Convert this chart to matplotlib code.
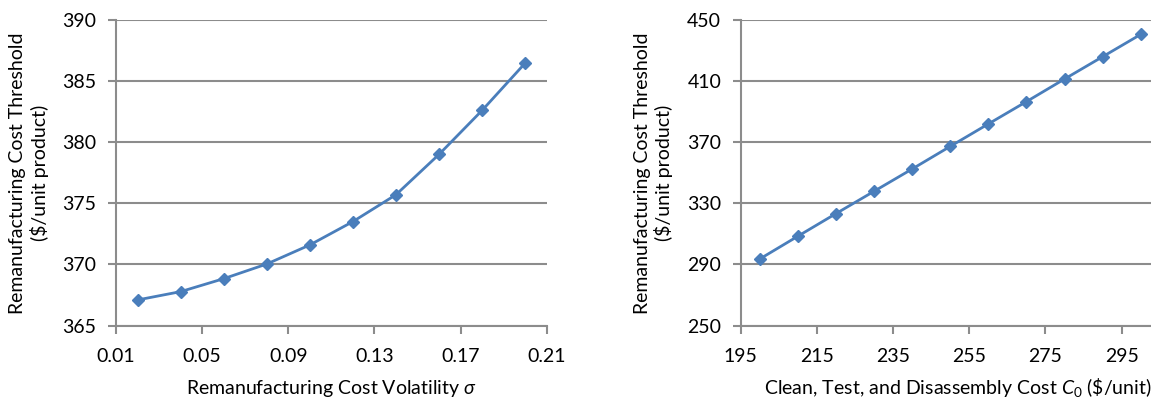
import matplotlib
matplotlib.use("Agg")
import matplotlib.pyplot as plt

plt.rcParams['font.family'] = ['Lato', 'DejaVu Sans']
plt.rcParams['mathtext.fontset'] = 'custom'
plt.rcParams['mathtext.it'] = 'Lato:italic'
plt.rcParams['mathtext.rm'] = 'Lato'

# left panel: threshold vs volatility
sigma = [0.02, 0.04, 0.06, 0.08, 0.10, 0.12, 0.14, 0.16, 0.18, 0.20]
thr_sigma = [367.10, 367.78, 368.84, 370.04, 371.60, 373.51, 375.71, 379.01, 382.61, 386.48]

# right panel: threshold vs clean/test/disassembly cost
c0 = [200, 210, 220, 230, 240, 250, 260, 270, 280, 290, 300]
thr_c0 = [293.6, 308.5, 323.3, 337.9, 352.5, 367.3, 382.0, 396.6, 411.4, 426.0, 440.6]

left_xticks = [0.01, 0.05, 0.09, 0.13, 0.17, 0.21]
left_yticks = [365, 370, 375, 380, 385, 390]
right_xticks = [195, 215, 235, 255, 275, 295]
right_yticks = [250, 290, 330, 370, 410, 450]

LINE = '#4A7EBB'
GRID = '#8C8C8C'

fig = plt.figure(figsize=(11.51, 4.01), dpi=100)
ax1 = fig.add_axes([0.1008, 0.188, 0.3742, 0.762])
ax2 = fig.add_axes([0.6435, 0.188, 0.3565, 0.762])


def style(ax):
    for s in ['top', 'right']:
        ax.spines[s].set_visible(False)
    for s in ['left', 'bottom']:
        ax.spines[s].set_color(GRID)
        ax.spines[s].set_linewidth(1.5)
    ax.yaxis.grid(True, color=GRID, linewidth=1.5)
    ax.set_axisbelow(True)
    ax.tick_params(axis='both', direction='out', color=GRID, width=1.5,
                   length=6, labelsize=14, labelcolor='black')
    ax.tick_params(axis='x', pad=10)
    ax.tick_params(axis='y', pad=8)


ax1.plot(sigma, thr_sigma, color=LINE, lw=2, marker='D', ms=6)
ax1.set_xlim(0.01, 0.21)
ax1.set_ylim(365, 390)
ax1.set_xticks(left_xticks)
ax1.set_xticklabels([f'{v:.2f}' for v in left_xticks])
ax1.set_yticks(left_yticks)
style(ax1)
ax1.set_ylabel('Remanufacturing Cost Threshold\n($/unit product)', fontsize=14, labelpad=10)
ax1.set_xlabel(r'Remanufacturing Cost Volatility $\sigma$', fontsize=14, va='baseline')
ax1.xaxis.set_label_coords(0.5, -0.225)

ax2.plot(c0, thr_c0, color=LINE, lw=2, marker='D', ms=6)
ax2.set_xlim(195, 302.7)
ax2.set_ylim(250, 450)
ax2.set_xticks(right_xticks)
ax2.set_yticks(right_yticks)
style(ax2)
ax2.set_ylabel('Remanufacturing Cost Threshold\n($/unit product)', fontsize=14, labelpad=10)
ax2.set_xlabel(r'Clean, Test, and Disassembly Cost $C_{\mathit{0}}$ (\$/unit)', fontsize=14, va='baseline')
ax2.xaxis.set_label_coords(0.53, -0.225)

fig.savefig('out.png', dpi=100)
